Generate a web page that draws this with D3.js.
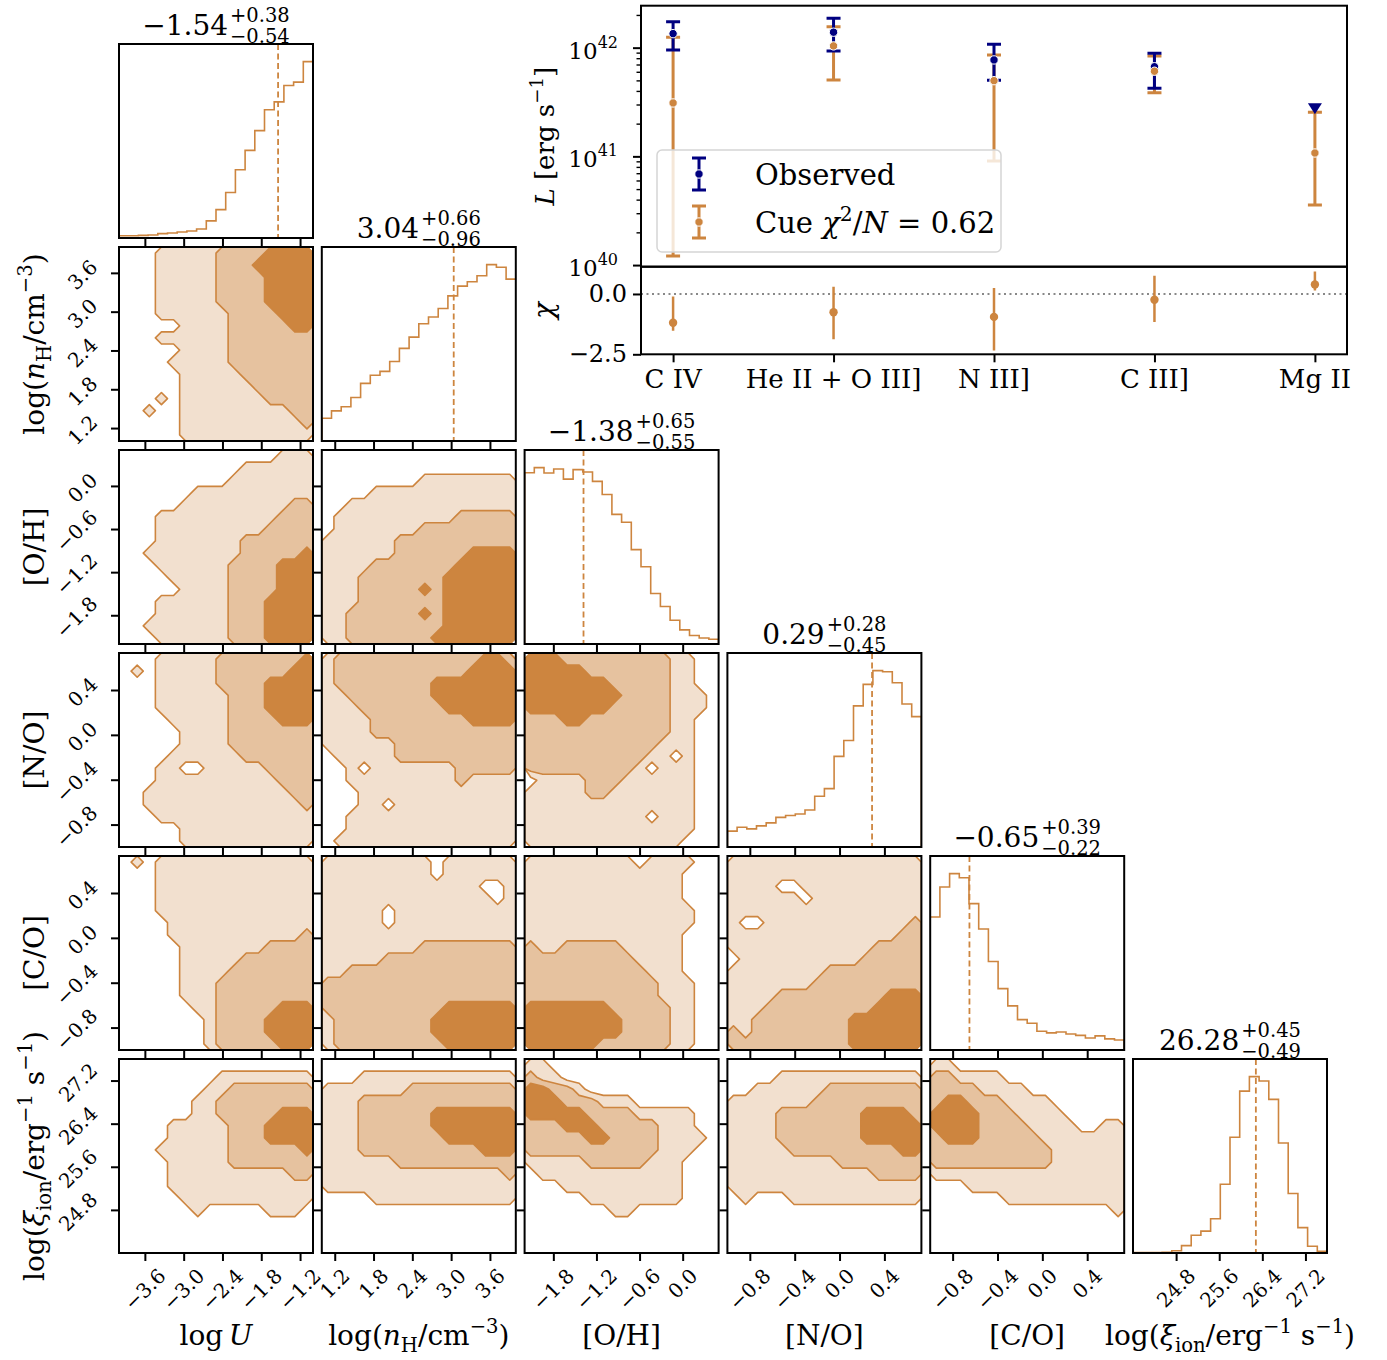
<!DOCTYPE html>
<html><head><meta charset="utf-8">
<script src="https://cdn.jsdelivr.net/npm/d3@7"></script>
<style>body{margin:0;background:#fff} text{font-family:"DejaVu Serif",serif;fill:#000}</style>
</head><body>
<svg id="c" width="1387" height="1360"></svg>
<script>
// ---------------- DATA ----------------
const paramRanges = [[-4,-1],[1,4],[-2.2,0.5],[-1,0.73],[-1,0.73],[24,27.6]];
const paramTicks = [[-3.6,-3.0,-2.4,-1.8,-1.2],[1.2,1.8,2.4,3.0,3.6],[-1.8,-1.2,-0.6,0.0],[-0.8,-0.4,0.0,0.4],[-0.8,-0.4,0.0,0.4],[24.8,25.6,26.4,27.2]];
const medians = [-1.54, 3.04, -1.38, 0.29, -0.65, 26.28];
const errPlus = [0.38, 0.66, 0.65, 0.28, 0.39, 0.45];
const errMinus = [0.54, 0.96, 0.55, 0.45, 0.22, 0.49];

const hist_logU = [13,13,15,17,25,28,34,40,51,97,161,258,387,497,609,727,772,865,884,1000];
const hist_nH   = [129,171,194,247,327,373,395,451,525,589,665,703,751,823,878,903,937,1000,985,918];
const hist_OH   = [971,1000,970,992,935,989,975,922,848,735,690,535,438,286,213,135,80,48,34,27];
const hist_NO   = [90,112,103,120,137,168,179,187,210,288,331,514,604,800,922,1000,994,931,811,739];
const hist_CO   = [754,924,1000,977,830,686,502,348,250,172,152,106,97,102,91,83,68,80,63,57];
const hist_xi   = [2,2,2,4,13,42,101,124,194,390,656,918,1000,975,871,624,337,144,38,10];

// density level grids (0 = outside, 1..3 = credible levels), rows listed from top (max y) to bottom
const cnt_nH_logU = ["0001111122223333","0001111122233333","0001111122223333","0001111122223333","0001111122223333","0001111112222333","0000011112222233","0001111112222222","0000011112222222","0000111112222222","0000011111222222","0000011111122222","0001011111112222","0010011111111122","0000011111111112","0000011111111111"];
const cnt_OH_logU = ["0000000000000111","0000000000111111","0000000001111111","0000001111111111","0000011111111122","0001111111111222","0001111111112222","0001111111222222","0011111111222223","0001111112222333","0000111112222333","0000011112222333","0001111112223333","0001111112223333","0011111112223333","0001111112223333"];
const cnt_OH_nH = ["0000000000000000","0000000000000000","0000000011111111","0000111111111111","0011111111111111","0111111111122222","0111111122222222","1111112222222222","1111112222223333","1111222222233333","1112222222333333","1112222232333333","1112222222333333","1122222232333333","1122222222333333","1122222223333333"];
const cnt_NO_logU = ["0001111122222223","0101111122222233","0001111122223333","0001111112223333","0001111112223333","0000111112222333","0000011112222222","0000011112222222","0000111111222222","0001100111112222","0001111111111222","0011111111111122","0011111111111112","0001111111111111","0000011111111111","0000011111111111"];
const cnt_NO_nH = ["1222222222222332","1222222222223333","1222222223333333","1122222223333333","1112222222333333","1111222222223333","1111222222222222","1111112222222222","0111112222222222","0010111111122222","0011111111121111","0001111111111111","0001101111111111","0011111111111111","0011111111111111","0111111111111111"];
const cnt_NO_OH = ["3332222222221100","3333322222221100","3333333222221100","3333333322221110","3333333222221110","2223322222221100","2222222222221100","2222222222211100","2222222222110100","2222222221011100","0111122211111100","1111122111111100","1111111111111100","1111111111011100","1111111111111100","1111111111111000"];
const cnt_CO_logU = ["0101111111111111","0001111111111111","0001111111111111","0001111111111111","0001111111111111","0000111111111111","0000111111111112","0000011111112222","0000011111222222","0000011112222222","0000011122222222","0000011122222222","0000001122222333","0000000122223333","0000000122223333","0000000122222333"];
const cnt_CO_nH = ["1111111110111111","1111111110111111","1111111111111001","1111111111111101","1111101111111111","1111101111111111","1111111111111111","1111111122222222","1111122222222222","1122222222222222","2222222222222222","2222222222222222","2222222222333333","1222222223333333","1222222223333333","1222222222333333"];
const cnt_CO_OH = ["1111111110111100","1111111111111000","1111111111111000","1111111111111000","1111111111111100","1111111111111100","1111111111111000","2112222211111000","2222222221111000","2222222222111000","2222222222211100","2222222222211100","3333333222221100","3333333322221100","3333333322221100","3333332222221100"];
const cnt_CO_NO = ["1111111111111111","1111111111111111","1111001111111111","1111110111111111","1111111111111111","1001111111111112","1111111111111122","1111111111112222","0111111111122222","1111111122222222","1111111222222222","1111222222222333","1112222222223333","1122222222333333","2122222222333333","2222222222333333"];
const cnt_xi_logU = ["0000000000000000","0000000011111111","0000000112222222","0000001122222222","0000001122222333","0000111112223333","0000111112223333","0001111112222223","0000111112222222","0000111111111122","0000111111111111","0000011111111111","0000001000001110","0000000000000000","0000000000000000","0000000000000000"];
const cnt_xi_nH = ["0000000000000000","0001111111111111","1111111222222222","1112222222222222","1112222223333333","1112222223333333","1112222222333333","1112222222222333","1111112222222222","1111111111111112","1111111111111111","0000111111111111","0000000000000000","0000000000000000","0000000000000000","0000000000000000"];
const cnt_xi_OH = ["1100000000000000","2110000000000000","3322100000000000","3332221110000000","3333322221111100","2223332222211100","2222233222211110","2222222222211100","1111122222111000","0111111111111000","0001111111111000","0000011111111000","0000000110000000","0000000000000000","0000000000000000","0000000000000000"];
const cnt_xi_NO = ["0000000000000000","0000111111111111","0011111122222222","1111111222222222","1111222222233332","1111222222233333","1111222222233333","1111122222222233","1111111112222222","1111111111112222","1111111111111111","0100011111111111","0000000000000000","0000000000000000","0000000000000000","0000000000000000"];
const cnt_xi_CO = ["1100000000000000","2211110000000000","2222111100000000","2332221111000000","3333222111100000","3333222211110011","2333222221111111","2222222222111111","2222222222111111","1111111111111111","0001111111111111","0000001111111111","0000000000000001","0000000000000000","0000000000000000","0000000000000000"];

// inset: emission line luminosities (erg/s) and residuals
const lineNames = ["C IV","He II + O III]","N III]","C III]","Mg II"];
const obsL   = [1.346e42, 1.387e42, 7.71e41, 6.68e41, 2.83e41];
const obsLHi = [1.734e42, 1.862e42, 1.074e42, 8.87e41, null];
const obsLLo = [9.53e41, 9.33e41, 5.01e41, 4.23e41, null];
const obsUpperLimit = [false,false,false,false,true];
const cueL   = [3.10e41, 1.038e42, 4.97e41, 6.07e41, 1.074e41];
const cueLHi = [1.247e42, 1.56e42, 8.57e41, 8.39e41, 2.55e41];
const cueLLo = [1.21e40, 5.05e41, 9.08e40, 3.85e41, 3.57e40];
const chiVal = [-1.19, -0.76, -0.95, -0.24, 0.39];
const chiHi  = [-0.11, 0.30, 0.25, 0.75, 0.93];
const chiLo  = [-1.52, -1.88, -2.34, -1.16, 0.14];
const chi2N = 0.62;

// ---------------- DRAWING ----------------
const PEACH = '#cd853f', NAVY = '#000080';
const FILLS = ['#f2e0cf', '#e6c29f', '#cd853f'];
const svg = d3.select('#c');
const L0 = 119, T0 = 44, PX = 202.8, PY = 203, SZ = 194;
const px = c => L0 + c*PX, py = r => T0 + r*PY;
const xS = paramRanges.map((d,c) => d3.scaleLinear().domain(d).range([px(c), px(c)+SZ]));
const yS = paramRanges.map((d,r) => d3.scaleLinear().domain(d).range([py(r)+SZ, py(r)]));
const fmt1 = d3.format('.1f'), fmt2 = d3.format('.2f');
const hists = [hist_logU, hist_nH, hist_OH, hist_NO, hist_CO, hist_xi];
const grids = {"1,0":cnt_nH_logU,"2,0":cnt_OH_logU,"2,1":cnt_OH_nH,"3,0":cnt_NO_logU,"3,1":cnt_NO_nH,"3,2":cnt_NO_OH,
  "4,0":cnt_CO_logU,"4,1":cnt_CO_nH,"4,2":cnt_CO_OH,"4,3":cnt_CO_NO,"5,0":cnt_xi_logU,"5,1":cnt_xi_nH,"5,2":cnt_xi_OH,"5,3":cnt_xi_NO,"5,4":cnt_xi_CO};

const labelSegs = [
  [{t:'log\u2009'},{t:'U',i:1}],
  [{t:'log('},{t:'n',i:1},{t:'H',sub:1},{t:'/cm'},{t:'\u22123',sup:1},{t:')'}],
  [{t:'[O/H]'}],[{t:'[N/O]'}],[{t:'[C/O]'}],
  [{t:'log('},{t:'\u03be',i:1},{t:'ion',sub:1},{t:'/erg'},{t:'\u22121',sup:1},{t:' s'},{t:'\u22121',sup:1},{t:')'}]
];
function rich(sel, segs, size){
  let cur = 0;
  segs.forEach(s => {
    const off = s.sup ? -0.42*size : (s.sub ? 0.25*size : 0);
    const fs = (s.sup||s.sub) ? size*0.7 : size;
    sel.append('tspan').attr('dy', off-cur).attr('font-size', fs)
      .attr('font-style', s.i ? 'italic' : 'normal').text(s.t);
    cur = off;
  });
}

const defs = svg.append('defs');
function panelClip(id, x, y, w, h){
  defs.append('clipPath').attr('id', id).append('rect').attr('x',x).attr('y',y).attr('width',w).attr('height',h);
}

function drawContours(r, c){
  const grid = grids[r+','+c];
  const m = grid.length, n = grid[0].length;
  const values = [];
  grid.forEach(row => { for (const ch of row) values.push(+ch); });
  const cs = d3.contours().size([n,m]).thresholds([0.5,1.5,2.5])(values);
  const [x0,x1] = paramRanges[c], [y0,y1] = paramRanges[r];
  const xs = xS[c], ys = yS[r];
  const proj = d3.geoTransform({point(x,y){ this.stream.point(xs(x0 + x/n*(x1-x0)), ys(y1 - y/m*(y1-y0))); }});
  const path = d3.geoPath(proj);
  const id = 'cl'+r+c; panelClip(id, px(c), py(r), SZ, SZ);
  const g = svg.append('g').attr('clip-path', `url(#${id})`);
  cs.forEach((cc,i) => g.append('path').attr('d', path(cc)).attr('fill', FILLS[i]).attr('stroke','none'));
  cs.forEach(cc => g.append('path').attr('d', path(cc)).attr('fill','none').attr('stroke', PEACH).attr('stroke-width',1.6).attr('stroke-linejoin','round'));
}

function drawHist(c){
  const counts = hists[c], n = counts.length;
  const [x0,x1] = paramRanges[c], w = (x1-x0)/n;
  const ys = d3.scaleLinear().domain([0, 1.1*d3.max(counts)]).range([py(c)+SZ, py(c)]);
  const pts = [[x0,0]];
  counts.forEach((v,i) => { pts.push([x0+i*w, v]); pts.push([x0+(i+1)*w, v]); });
  pts.push([x1,0]);
  const id = 'hc'+c; panelClip(id, px(c), py(c), SZ, SZ);
  const g = svg.append('g').attr('clip-path', `url(#${id})`);
  g.append('path').attr('d', d3.line().x(d=>xS[c](d[0])).y(d=>ys(d[1]))(pts))
    .attr('fill','none').attr('stroke', PEACH).attr('stroke-width',1.6);
  g.append('line').attr('x1', xS[c](medians[c])).attr('x2', xS[c](medians[c]))
    .attr('y1', py(c)).attr('y2', py(c)+SZ).attr('stroke', PEACH).attr('stroke-width',1.8).attr('stroke-dasharray','6,3.5');
  // title
  const cx = px(c)+SZ/2, top = py(c);
  const tg = svg.append('g');
  const mt = tg.append('text').attr('font-size',28).attr('y', top-9).text(fmt2(medians[c]));
  const sp = tg.append('text').attr('font-size',19.5).attr('y', top-22).text('+'+fmt2(errPlus[c]));
  const sb = tg.append('text').attr('font-size',19.5).attr('y', top-1).text('\u2212'+fmt2(errMinus[c]));
  const wm = mt.node().getComputedTextLength();
  const ws = Math.max(sp.node().getComputedTextLength(), sb.node().getComputedTextLength());
  const gap = 2, xst = cx - (wm+gap+ws)/2;
  mt.attr('x', xst); sp.attr('x', xst+wm+gap); sb.attr('x', xst+wm+gap);
}

function ticks(r, c, withY){
  const g = svg.append('g').attr('transform', `translate(0,${py(r)+SZ})`);
  g.call(d3.axisBottom(xS[c]).tickValues(paramTicks[c]).tickSize(8).tickFormat(''));
  g.select('.domain').remove();
  g.selectAll('line').attr('stroke','#000').attr('stroke-width',2);
  if (withY){
    const gy = svg.append('g').attr('transform', `translate(${px(c)},0)`);
    gy.call(d3.axisLeft(yS[r]).tickValues(paramTicks[r]).tickSize(8).tickFormat(''));
    gy.select('.domain').remove();
    gy.selectAll('line').attr('stroke','#000').attr('stroke-width',2);
  }
}
function frame(r, c){
  svg.append('rect').attr('x',px(c)).attr('y',py(r)).attr('width',SZ).attr('height',SZ)
    .attr('fill','none').attr('stroke','#000').attr('stroke-width',2);
}
const TFS = 20;
function xTickLabels(c){
  const yb = py(5)+SZ;
  paramTicks[c].forEach(v => {
    const t = svg.append('text').attr('font-size',TFS).attr('text-anchor','middle').attr('dominant-baseline','central').text(fmt1(v));
    const L = t.node().getComputedTextLength(), half = (L + TFS*0.75)/(2*Math.SQRT2);
    t.attr('transform', `translate(${xS[c](v)},${yb+14+half}) rotate(-45)`);
  });
}
function yTickLabels(r){
  paramTicks[r].forEach(v => {
    const t = svg.append('text').attr('font-size',TFS).attr('text-anchor','middle').attr('dominant-baseline','central').text(fmt1(v));
    const L = t.node().getComputedTextLength(), half = (L + TFS*0.75)/(2*Math.SQRT2);
    t.attr('transform', `translate(${px(0)-20-half},${yS[r](v)+2}) rotate(-45)`);
  });
}

for (let r=0; r<6; r++){
  for (let c=0; c<=r; c++){
    if (r===c){ drawHist(c); ticks(r,c,false); }
    else { drawContours(r,c); ticks(r,c,true); }
    frame(r,c);
  }
}
for (let c=0;c<6;c++) xTickLabels(c);
for (let r=1;r<6;r++) yTickLabels(r);
// axis labels
for (let c=0;c<6;c++){
  const t = svg.append('text').attr('font-size',28).attr('text-anchor','middle').attr('x', px(c)+SZ/2).attr('y', 1345);
  rich(t, labelSegs[c], 28);
}
for (let r=1;r<6;r++){
  const t = svg.append('text').attr('font-size',28).attr('text-anchor','middle')
    .attr('transform', `translate(44,${py(r)+SZ/2}) rotate(-90)`);
  rich(t, labelSegs[r], 28);
}

// ---------------- INSET ----------------
const IX0=641, IX1=1347, IY0=5.7, IYM=266.7, IY1=354.3;
const xI = d3.scaleLinear().domain([-0.2,4.2]).range([IX0,IX1]);
const yL = d3.scaleLog().domain([Math.pow(10,39.985), Math.pow(10,42.386)]).range([IYM,IY0]);
const yC = d3.scaleLinear().domain([-2.5,1.13]).range([IY1,IYM]);
const ig = svg.append('g');
defs.append('clipPath').attr('id','ic1').append('rect').attr('x',IX0).attr('y',IY0).attr('width',IX1-IX0).attr('height',IYM-IY0);
defs.append('clipPath').attr('id','ic2').append('rect').attr('x',IX0).attr('y',IYM).attr('width',IX1-IX0).attr('height',IY1-IYM);
const p1 = ig.append('g').attr('clip-path','url(#ic1)');
const CAP = 7;
function errbar(g, x, lo, hi, col){
  g.append('line').attr('x1',x).attr('x2',x).attr('y1',lo).attr('y2',hi).attr('stroke',col).attr('stroke-width',3);
  [lo,hi].forEach(yy => g.append('line').attr('x1',x-CAP).attr('x2',x+CAP).attr('y1',yy).attr('y2',yy).attr('stroke',col).attr('stroke-width',3));
}
lineNames.forEach((n,i) => errbar(p1, xI(i), yL(cueLLo[i]), yL(cueLHi[i]), PEACH));
lineNames.forEach((n,i) => { if (!obsUpperLimit[i]) errbar(p1, xI(i), yL(obsLLo[i]), yL(obsLHi[i]), NAVY); });
lineNames.forEach((n,i) => {
  const x = xI(i), y = yL(obsL[i]);
  if (obsUpperLimit[i]) p1.append('path').attr('d', `M${x-7},${y-4}L${x+7},${y-4}L${x},${y+7}Z`).attr('fill',NAVY);
  else p1.append('circle').attr('cx',x).attr('cy',y).attr('r',4.2).attr('fill',NAVY).attr('stroke','#fff').attr('stroke-width',1);
});
lineNames.forEach((n,i) => p1.append('circle').attr('cx',xI(i)).attr('cy',yL(cueL[i])).attr('r',4.2).attr('fill',PEACH).attr('stroke','#fff').attr('stroke-width',1));

// residual panel
const p2 = ig.append('g').attr('clip-path','url(#ic2)');
p2.append('line').attr('x1',IX0).attr('x2',IX1).attr('y1',yC(0)).attr('y2',yC(0)).attr('stroke','#888').attr('stroke-width',2).attr('stroke-dasharray','2,3.5');
lineNames.forEach((n,i) => {
  p2.append('line').attr('x1',xI(i)).attr('x2',xI(i)).attr('y1',yC(chiLo[i])).attr('y2',yC(chiHi[i])).attr('stroke',PEACH).attr('stroke-width',2.5);
  p2.append('circle').attr('cx',xI(i)).attr('cy',yC(chiVal[i])).attr('r',4.2).attr('fill',PEACH);
});

// inset axes
const ax1 = ig.append('g').attr('transform',`translate(${IX0},0)`);
ax1.call(d3.axisLeft(yL).tickValues(yL.ticks().filter(v => ![1e40,1e41,1e42].includes(v))).tickSize(4.5).tickFormat(''));
ax1.select('.domain').remove(); ax1.selectAll('line').attr('stroke','#000').attr('stroke-width',1.4);
const ax1b = ig.append('g').attr('transform',`translate(${IX0},0)`);
ax1b.call(d3.axisLeft(yL).tickValues([1e40,1e41,1e42]).tickSize(8).tickFormat(''));
ax1b.select('.domain').remove(); ax1b.selectAll('line').attr('stroke','#000').attr('stroke-width',2);
[[1e40,'40'],[1e41,'41'],[1e42,'42']].forEach(([v,e]) => {
  const t = ig.append('text').attr('text-anchor','end').attr('x',618).attr('y', yL(v)+11);
  t.append('tspan').attr('font-size',23).text('10');
  t.append('tspan').attr('font-size',16).attr('dy',-11).text(e);
});
const ax2 = ig.append('g').attr('transform',`translate(${IX0},0)`);
ax2.call(d3.axisLeft(yC).tickValues([0,-2.5]).tickSize(8).tickFormat(''));
ax2.select('.domain').remove(); ax2.selectAll('line').attr('stroke','#000').attr('stroke-width',2);
[0,-2.5].forEach(v => ig.append('text').attr('font-size',24).attr('text-anchor','end').attr('x',627).attr('y',yC(v)+8).text(fmt1(v)));
const ax3 = ig.append('g').attr('transform',`translate(0,${IY1})`);
ax3.call(d3.axisBottom(xI).tickValues(d3.range(lineNames.length)).tickSize(8).tickFormat(''));
ax3.select('.domain').remove(); ax3.selectAll('line').attr('stroke','#000').attr('stroke-width',2);
lineNames.forEach((n,i) => ig.append('text').attr('font-size',26).attr('text-anchor','middle').attr('x',xI(i)).attr('y',388).text(n));
ig.append('rect').attr('x',IX0).attr('y',IY0).attr('width',IX1-IX0).attr('height',IYM-IY0).attr('fill','none').attr('stroke','#000').attr('stroke-width',2);
ig.append('rect').attr('x',IX0).attr('y',IYM).attr('width',IX1-IX0).attr('height',IY1-IYM).attr('fill','none').attr('stroke','#000').attr('stroke-width',2);
// y labels
const yl1 = ig.append('text').attr('font-size',26).attr('text-anchor','middle').attr('transform',`translate(554,${(IY0+IYM)/2}) rotate(-90)`);
rich(yl1, [{t:'L',i:1},{t:' [erg s'},{t:'\u22121',sup:1},{t:']'}], 26);
const yl2 = ig.append('text').attr('font-size',28).attr('text-anchor','middle').attr('transform',`translate(553,${(IYM+IY1)/2}) rotate(-90)`);
rich(yl2, [{t:'\u03c7',i:1}], 28);

// legend
const lg = ig.append('g');
lg.append('rect').attr('x',657).attr('y',150).attr('width',344).attr('height',102).attr('rx',5)
  .attr('fill','#fff').attr('fill-opacity',0.8).attr('stroke','#d5d5d5').attr('stroke-width',1.5);
function legendHandle(y, col){
  lg.append('line').attr('x1',699).attr('x2',699).attr('y1',y-16).attr('y2',y+16).attr('stroke',col).attr('stroke-width',3);
  [y-16,y+16].forEach(yy => lg.append('line').attr('x1',699-CAP).attr('x2',699+CAP).attr('y1',yy).attr('y2',yy).attr('stroke',col).attr('stroke-width',3));
  lg.append('circle').attr('cx',699).attr('cy',y).attr('r',4.2).attr('fill',col).attr('stroke','#fff').attr('stroke-width',1);
}
legendHandle(174, NAVY); legendHandle(222, PEACH);
lg.append('text').attr('font-size',29).attr('x',755).attr('y',185).text('Observed');
const lt = lg.append('text').attr('font-size',29).attr('x',755).attr('y',233);
rich(lt, [{t:'Cue '},{t:'\u03c7',i:1},{t:'2',sup:1},{t:'/'},{t:'N',i:1},{t:' = '+chi2N.toFixed(2)}], 29);
</script>
</body></html>
